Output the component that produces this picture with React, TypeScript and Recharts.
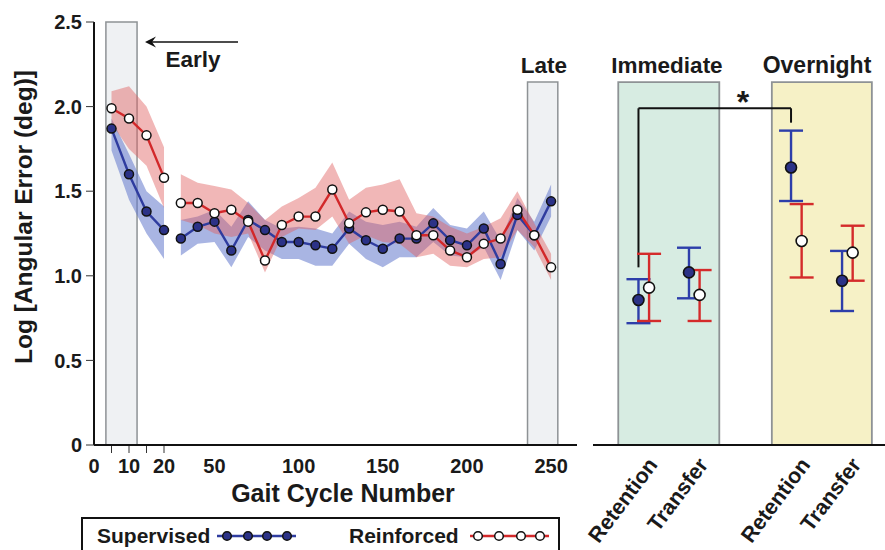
import React from 'react';
import {
  ComposedChart,
  Line,
  Area,
  XAxis,
  YAxis,
  ReferenceArea,
  ReferenceLine,
  Scatter,
  ErrorBar,
} from 'recharts';

// ---- gait cycle time course ----
const gaitCycles = [5, 10, 15, 20, 30, 40, 50, 60, 70, 80, 90, 100, 110, 120, 130, 140, 150, 160, 170, 180, 190, 200, 210, 220, 230, 240, 250];

const supervisedMean = [1.87, 1.6, 1.38, 1.27, 1.22, 1.29, 1.32, 1.15, 1.33, 1.27, 1.2, 1.2, 1.18, 1.16, 1.28, 1.21, 1.16, 1.22, 1.22, 1.31, 1.21, 1.18, 1.28, 1.07, 1.36, 1.24, 1.44];
const supervisedLow = [1.74, 1.45, 1.25, 1.1, 1.12, 1.19, 1.2, 1.05, 1.23, 1.15, 1.1, 1.1, 1.06, 1.06, 1.19, 1.1, 1.05, 1.11, 1.11, 1.2, 1.12, 1.11, 1.17, 0.975, 1.27, 1.15, 1.35];
const supervisedHigh = [1.93, 1.72, 1.5, 1.41, 1.33, 1.35, 1.39, 1.29, 1.44, 1.33, 1.28, 1.29, 1.28, 1.25, 1.38, 1.32, 1.3, 1.32, 1.29, 1.4, 1.3, 1.28, 1.38, 1.21, 1.46, 1.32, 1.54];

const reinforcedMean = [1.99, 1.93, 1.83, 1.58, 1.43, 1.43, 1.37, 1.39, 1.32, 1.09, 1.3, 1.35, 1.35, 1.51, 1.31, 1.375, 1.39, 1.38, 1.24, 1.24, 1.15, 1.11, 1.19, 1.22, 1.39, 1.24, 1.05];
const reinforcedLow = [1.9, 1.75, 1.65, 1.4, 1.33, 1.3, 1.25, 1.23, 1.25, 1.02, 1.23, 1.28, 1.27, 1.35, 1.19, 1.24, 1.2, 1.19, 1.11, 1.13, 1.06, 1.05, 1.1, 1.11, 1.27, 1.17, 0.975];
const reinforcedHigh = [2.09, 2.12, 2.0, 1.76, 1.6, 1.55, 1.53, 1.51, 1.43, 1.33, 1.41, 1.46, 1.52, 1.67, 1.45, 1.52, 1.54, 1.57, 1.37, 1.35, 1.29, 1.25, 1.29, 1.34, 1.5, 1.31, 1.13];

const xTickCycles = [0, 5, 10, 15, 20, 50, 100, 150, 200, 250];
const xLabelCycles = [0, 10, 20, 50, 100, 150, 200, 250];
const xMinorCycles = [5, 10, 15, 20];
const yTicks = [0, 0.5, 1, 1.5, 2, 2.5];

// ---- retention / transfer tests ----
const conditionLabels = ['Retention', 'Transfer', 'Retention', 'Transfer'];
const testSupMean = [0.857, 1.02, 1.64, 0.971];
const testSupLow = [0.72, 0.867, 1.442, 0.792];
const testSupHigh = [0.98, 1.166, 1.858, 1.147];
const testReiMean = [0.93, 0.887, 1.206, 1.137];
const testReiLow = [0.733, 0.733, 0.99, 0.971];
const testReiHigh = [1.13, 1.034, 1.424, 1.296];

// layout for the right panel (slot centres in axis units)
const slots = [1, 2, 4.02, 5.03];
const supShift = -0.1;
const reiShift = 0.11;

// the first 20 cycles are stretched on the axis
const EARLY_STRETCH = 2.08;
const pos = (c: number) => (c <= 20 ? c * EARLY_STRETCH : 20 * EARLY_STRETCH + (c - 20));

const timeData = gaitCycles.flatMap((c, i) => {
  const row = {
    x: pos(c),
    sup: supervisedMean[i],
    supBand: [supervisedLow[i], supervisedHigh[i]],
    rei: reinforcedMean[i],
    reiBand: [reinforcedLow[i], reinforcedHigh[i]],
  };
  if (c === 20) {
    return [row, { x: pos(25), sup: null, supBand: null, rei: null, reiBand: null }];
  }
  return [row];
});

const supTests = slots.map((s, i) => ({
  x: s + supShift,
  y: testSupMean[i],
  err: [testSupMean[i] - testSupLow[i], testSupHigh[i] - testSupMean[i]],
}));
const reiTests = slots.map((s, i) => ({
  x: s + reiShift,
  y: testReiMean[i],
  err: [testReiMean[i] - testReiLow[i], testReiHigh[i] - testReiMean[i]],
}));

const FONT = "'Liberation Sans', Arial, Helvetica, sans-serif";
const INK = '#1a1a1a';
const BLUE = '#2f3c9f';
const BLUE_DOT = '#2b3287';
const RED = '#d2282a';
const BOX_STROKE = '#8e9295';

const GaitTick = (props: any) => {
  const { x, y, payload } = props;
  const cycle = xTickCycles.find((c) => Math.abs(pos(c) - payload.value) < 1e-6);
  if (cycle === undefined) return null;
  return (
    <g>
      {xMinorCycles.includes(cycle) && (
        <line x1={x} x2={x} y1={y + 1} y2={y + 8} stroke="#333" strokeWidth={1} />
      )}
      {xLabelCycles.includes(cycle) && (
        <text x={x} y={y + 28} textAnchor="middle" fontFamily={FONT} fontWeight="bold" fontSize={20} fill={INK}>
          {cycle}
        </text>
      )}
    </g>
  );
};

const ConditionTick = (props: any) => {
  const { x, y, payload } = props;
  const i = slots.findIndex((s) => Math.abs(s - payload.value) < 1e-6);
  if (i < 0) return null;
  const ax = x + 15;
  const ay = y + 20;
  return (
    <text
      x={ax}
      y={ay}
      transform={`rotate(-53 ${ax} ${ay})`}
      textAnchor="end"
      fontFamily={FONT}
      fontWeight="bold"
      fontSize={21.5}
      fill={INK}
    >
      {conditionLabels[i]}
    </text>
  );
};

const dotShape = (fill: string) => (p: any) => (
  <circle cx={p.cx} cy={p.cy} r={5.5} fill={fill} stroke="#111" strokeWidth={1.6} />
);

function LegendMarker({ x1, x2, dots, line, fill }: { x1: number; x2: number; dots: number[]; line: string; fill: string }) {
  return (
    <g>
      <line x1={x1} x2={x2} y1={536} y2={536} stroke={line} strokeWidth={2.5} />
      {dots.map((d) => (
        <circle key={d} cx={d} cy={536} r={4.3} fill={fill} stroke="#111" strokeWidth={1.5} />
      ))}
    </g>
  );
}

export default function App() {
  return (
    <div style={{ position: 'absolute', left: 0, top: 0, width: 885, height: 550, overflow: 'hidden', background: '#fff' }}>
      <div style={{ position: 'absolute', left: 0, top: 0 }}>
        <ComposedChart width={600} height={550} data={timeData} margin={{ top: 22, right: 23, bottom: 75, left: 0 }}>
          <XAxis
            type="number"
            dataKey="x"
            domain={[0, 287]}
            ticks={xTickCycles.map(pos)}
            interval={0}
            tick={<GaitTick />}
            tickLine={false}
            tickSize={0}
            tickMargin={0}
            height={30}
            axisLine={{ stroke: '#111', strokeWidth: 2 }}
          />
          <YAxis
            type="number"
            domain={[0, 2.5]}
            ticks={yTicks}
            interval={0}
            width={94}
            tickSize={8}
            tickMargin={4}
            tickFormatter={(v: number) => (v === 0 ? '0' : v.toFixed(1))}
            tick={{ fontFamily: FONT, fontWeight: 'bold', fontSize: 20, fill: INK }}
            tickLine={{ stroke: '#333', strokeWidth: 1 }}
            axisLine={{ stroke: '#111', strokeWidth: 2 }}
          />
          <ReferenceArea x1={pos(3.4)} x2={pos(12.3)} y1={0} y2={2.5} fill="#eff1f3" fillOpacity={1} stroke={BOX_STROKE} strokeWidth={1.5} />
          <ReferenceArea x1={pos(236)} x2={pos(254)} y1={0} y2={2.145} fill="#eff1f3" fillOpacity={1} stroke={BOX_STROKE} strokeWidth={1.5} />
          <Area dataKey="supBand" stroke="none" fill="#6278cc" fillOpacity={0.55} isAnimationActive={false} connectNulls={false} />
          <Line dataKey="sup" stroke={BLUE} strokeWidth={2.4} dot={false} activeDot={false} isAnimationActive={false} connectNulls={false} />
          <Area dataKey="reiBand" stroke="none" fill="#e06060" fillOpacity={0.45} isAnimationActive={false} connectNulls={false} />
          <Line
            dataKey="sup"
            stroke="transparent"
            strokeWidth={0}
            dot={{ r: 4.5, fill: BLUE_DOT, stroke: '#111', strokeWidth: 1.5 }}
            activeDot={false}
            isAnimationActive={false}
            connectNulls={false}
          />
          <Line
            dataKey="rei"
            stroke={RED}
            strokeWidth={2.4}
            dot={{ r: 4.5, fill: '#fff', stroke: '#111', strokeWidth: 1.5 }}
            activeDot={false}
            isAnimationActive={false}
            connectNulls={false}
          />
        </ComposedChart>
      </div>

      <div style={{ position: 'absolute', left: 560, top: 0 }}>
        <ComposedChart width={325} height={550} margin={{ top: 22, right: 0, bottom: 75, left: 33 }}>
          <XAxis
            type="number"
            dataKey="x"
            domain={[0, 5.78]}
            ticks={slots}
            interval={0}
            tick={<ConditionTick />}
            tickLine={false}
            tickSize={0}
            tickMargin={0}
            height={30}
            axisLine={{ stroke: '#111', strokeWidth: 2 }}
          />
          <YAxis type="number" dataKey="y" domain={[0, 2.5]} hide />
          <ReferenceArea x1={0.5} x2={2.5} y1={0} y2={2.145} fill="#d7ece2" fillOpacity={1} stroke={BOX_STROKE} strokeWidth={1.8} />
          <ReferenceArea x1={3.54} x2={5.52} y1={0} y2={2.145} fill="#f6f1c6" fillOpacity={1} stroke={BOX_STROKE} strokeWidth={1.8} />
          <ReferenceLine segment={[{ x: slots[0] + supShift, y: 1.05 }, { x: slots[0] + supShift, y: 1.99 }]} stroke="#111" strokeWidth={2} />
          <ReferenceLine segment={[{ x: slots[0] + supShift, y: 1.99 }, { x: slots[2] + supShift, y: 1.99 }]} stroke="#111" strokeWidth={2} />
          <ReferenceLine segment={[{ x: slots[2] + supShift, y: 1.99 }, { x: slots[2] + supShift, y: 1.905 }]} stroke="#111" strokeWidth={2} />
          <Scatter data={supTests} shape={dotShape(BLUE_DOT)} isAnimationActive={false}>
            <ErrorBar dataKey="err" direction="y" width={12} stroke="#2d3eaa" strokeWidth={2.4} />
          </Scatter>
          <Scatter data={reiTests} shape={dotShape('#fff')} isAnimationActive={false}>
            <ErrorBar dataKey="err" direction="y" width={12} stroke="#d42b2b" strokeWidth={2.4} />
          </Scatter>
        </ComposedChart>
      </div>

      <svg width={885} height={550} style={{ position: 'absolute', left: 0, top: 0, pointerEvents: 'none' }}>
        <g fontFamily={FONT} fontWeight="bold" fill={INK}>
          <text x={23} y={217} transform="rotate(-90 23 217)" textAnchor="middle" dominantBaseline="central" fontSize={24.5}>
            Log [Angular Error (deg)]
          </text>
          <text x={343} y={502} textAnchor="middle" fontSize={25}>
            Gait Cycle Number
          </text>
          <text x={193} y={67} textAnchor="middle" fontSize={22.5}>
            Early
          </text>
          <text x={544} y={73} textAnchor="middle" fontSize={22.5}>
            Late
          </text>
          <text x={667} y={73} textAnchor="middle" fontSize={22.5}>
            Immediate
          </text>
          <text x={817} y={73} textAnchor="middle" fontSize={23}>
            Overnight
          </text>
          <text x={743} y={113} textAnchor="middle" fontSize={32}>
            *
          </text>
        </g>
        <line x1={238} x2={148} y1={42} y2={42} stroke="#111" strokeWidth={1.5} />
        <path d="M145 42 L156 36.5 L152 42 L156 47.5 Z" fill="#111" />

        <rect x={82} y={518} width={477} height={60} fill="none" stroke="#111" strokeWidth={2} />
        <g fontFamily={FONT} fontWeight="bold" fill={INK} fontSize={21}>
          <text x={97} y={543}>Supervised</text>
          <text x={349} y={543}>Reinforced</text>
        </g>
        <LegendMarker x1={217} x2={296} dots={[227, 248, 267, 287]} line={BLUE} fill={BLUE_DOT} />
        <LegendMarker x1={470} x2={549} dots={[478, 499, 521, 540]} line={RED} fill="#fff" />
      </svg>
    </div>
  );
}
